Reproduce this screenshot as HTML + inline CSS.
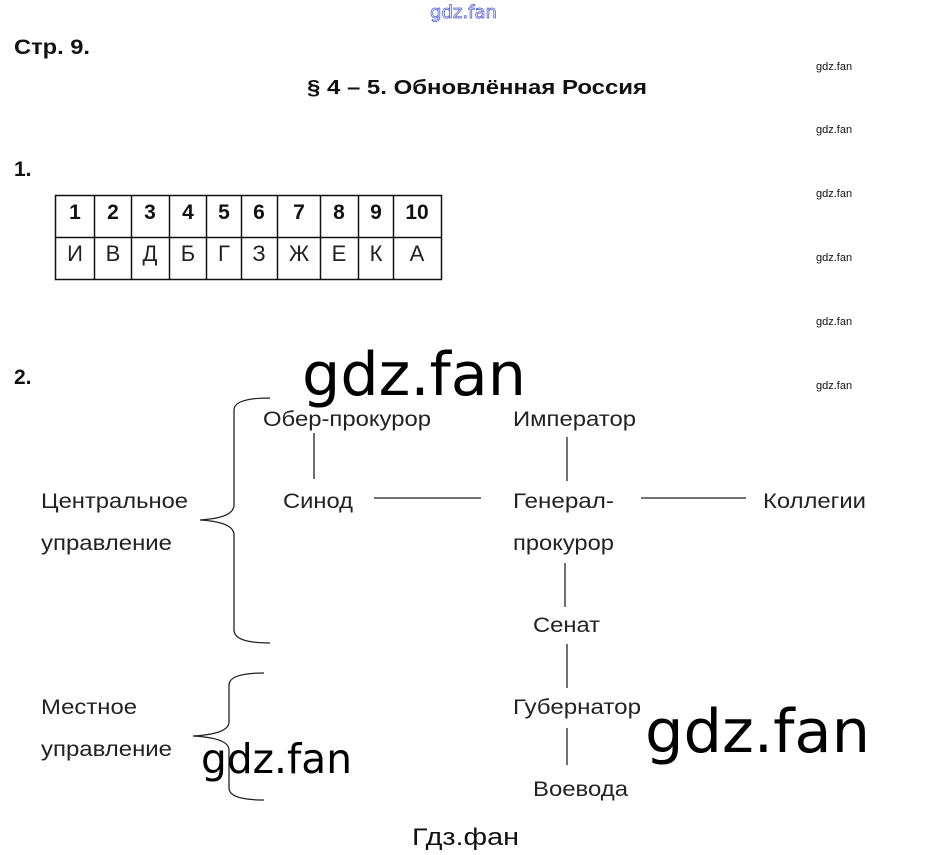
<!DOCTYPE html>
<html><head><meta charset="utf-8"><style>
html,body{margin:0;padding:0;background:#fff;}
svg{display:block}
</style></head><body>
<svg width="925" height="855" xmlns="http://www.w3.org/2000/svg" font-family="Liberation Sans, sans-serif">
<text x="430" y="18" font-family="DejaVu Sans, sans-serif" font-size="18" fill="#fff" stroke="#5560d0" stroke-width="0.8" textLength="67" lengthAdjust="spacingAndGlyphs">gdz.fan</text>
<text x="14" y="54" font-size="21" font-weight="bold" fill="#111" textLength="76" lengthAdjust="spacingAndGlyphs">Стр. 9.</text>
<text x="307" y="94" font-size="20" font-weight="bold" fill="#111" textLength="340" lengthAdjust="spacingAndGlyphs">§ 4 – 5. Обновлённая Россия</text>
<g font-size="11" fill="#111">
<text x="816" y="70">gdz.fan</text><text x="816" y="133">gdz.fan</text><text x="816" y="197">gdz.fan</text>
<text x="816" y="261">gdz.fan</text><text x="816" y="325">gdz.fan</text><text x="816" y="389">gdz.fan</text>
</g>
<text x="14" y="176" font-size="21" font-weight="bold" fill="#111">1.</text>
<text x="14" y="384" font-size="21" font-weight="bold" fill="#111">2.</text>
<g stroke="#111" stroke-width="1.5" fill="none">
<rect x="55.5" y="195.5" width="386" height="84"/>
<line x1="55" y1="237.5" x2="441" y2="237.5"/>
<line x1="94.5" y1="195" x2="94.5" y2="280"/><line x1="131.5" y1="195" x2="131.5" y2="280"/>
<line x1="169.5" y1="195" x2="169.5" y2="280"/><line x1="206.5" y1="195" x2="206.5" y2="280"/>
<line x1="241.5" y1="195" x2="241.5" y2="280"/><line x1="277.5" y1="195" x2="277.5" y2="280"/>
<line x1="320.5" y1="195" x2="320.5" y2="280"/><line x1="358.5" y1="195" x2="358.5" y2="280"/>
<line x1="393.5" y1="195" x2="393.5" y2="280"/>
</g>
<g font-size="21" font-weight="bold" fill="#111" text-anchor="middle">
<text x="75" y="219">1</text><text x="113" y="219">2</text><text x="150" y="219">3</text><text x="188" y="219">4</text><text x="224" y="219">5</text><text x="259" y="219">6</text><text x="299" y="219">7</text><text x="339" y="219">8</text><text x="376" y="219">9</text><text x="417" y="219">10</text>
</g>
<g font-size="22" fill="#222" text-anchor="middle">
<text x="75" y="261">И</text><text x="113" y="261">В</text><text x="150" y="261">Д</text><text x="188" y="261">Б</text><text x="224" y="261">Г</text><text x="259" y="261">З</text><text x="299" y="261">Ж</text><text x="339" y="261">Е</text><text x="376" y="261">К</text><text x="417" y="261">А</text>
</g>
<g font-size="21" fill="#222">
<text x="263" y="426" textLength="168" lengthAdjust="spacingAndGlyphs">Обер-прокурор</text>
<text x="513" y="426" textLength="123" lengthAdjust="spacingAndGlyphs">Император</text>
<text x="283" y="508" textLength="70" lengthAdjust="spacingAndGlyphs">Синод</text>
<text x="513" y="508" textLength="101" lengthAdjust="spacingAndGlyphs">Генерал-</text>
<text x="513" y="550" textLength="101" lengthAdjust="spacingAndGlyphs">прокурор</text>
<text x="763" y="508" textLength="103" lengthAdjust="spacingAndGlyphs">Коллегии</text>
<text x="533" y="632" textLength="67" lengthAdjust="spacingAndGlyphs">Сенат</text>
<text x="513" y="714" textLength="128" lengthAdjust="spacingAndGlyphs">Губернатор</text>
<text x="533" y="796" textLength="95" lengthAdjust="spacingAndGlyphs">Воевода</text>
<text x="41" y="508" textLength="147" lengthAdjust="spacingAndGlyphs">Центральное</text>
<text x="41" y="550" textLength="131" lengthAdjust="spacingAndGlyphs">управление</text>
<text x="41" y="714" textLength="96" lengthAdjust="spacingAndGlyphs">Местное</text>
<text x="41" y="756" textLength="131" lengthAdjust="spacingAndGlyphs">управление</text>
</g>
<g stroke="#222" stroke-width="1.3" fill="none">
<line x1="314" y1="433" x2="314" y2="479"/>
<line x1="374" y1="498" x2="481" y2="498"/>
<line x1="567" y1="437" x2="567" y2="481"/>
<line x1="641" y1="498" x2="746" y2="498"/>
<line x1="565" y1="563" x2="565" y2="607"/>
<line x1="567" y1="644" x2="567" y2="688"/>
<line x1="567" y1="728" x2="567" y2="765"/>
<path d="M270,398 Q234,398 234,410 L234,505 Q234,518 200,520 Q234,522 234,535 L234,630 Q234,643 270,643"/>
<path d="M264,673 Q229,673 229,685 L229,722 Q229,734 193,736 Q229,738 229,750 L229,788 Q229,800 264,800"/>
</g>
<g font-family="DejaVu Sans, sans-serif" fill="#000">
<text x="302" y="395" font-size="60" textLength="224" lengthAdjust="spacingAndGlyphs">gdz.fan</text>
<text x="645" y="752" font-size="60" textLength="225" lengthAdjust="spacingAndGlyphs">gdz.fan</text>
<text x="201" y="773" font-size="41" textLength="151" lengthAdjust="spacingAndGlyphs">gdz.fan</text>
</g>
<text x="412" y="845" font-size="24" fill="#111" textLength="107" lengthAdjust="spacingAndGlyphs">Гдз.фан</text>
</svg>
</body></html>
